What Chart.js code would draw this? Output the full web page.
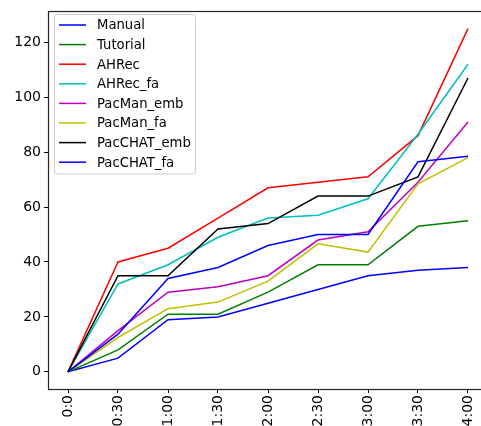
<!DOCTYPE html>
<html>
<head>
<meta charset="utf-8">
<script src="https://cdn.jsdelivr.net/npm/chart.js@4/dist/chart.umd.min.js"></script>
<style>
html,body{margin:0;padding:0;background:#fff;overflow:hidden;}
#wrap{width:481px;height:426px;overflow:hidden;position:relative;}
#box{width:500px;height:426px;position:absolute;left:0;top:0;}
</style>
</head>
<body>
<div id="wrap"><div id="box"><canvas id="c"></canvas></div></div>
<script>
const categories = ['0:0','0:30','1:00','1:30','2:00','2:30','3:00','3:30','4:00'];
const yTicks = [0,20,40,60,80,100,120];
const seriesNames = ['Manual','Tutorial','AHRec','AHRec_fa','PacMan_emb','PacMan_fa','PacCHAT_emb','PacCHAT_fa'];
const seriesColors = ['#0000ff','#008000','#ff0000','#00bfbf','#bf00bf','#bfbf00','#000000','#0000ff'];
const manual      = [0, 5, 19, 20, 25, 30, 35, 37, 38];
const tutorial    = [0, 8, 21, 21, 29, 39, 39, 53, 55];
const ahrec       = [0, 40, 45, 56, 67, 69, 71, 86, 125];
const ahrecFa     = [0, 32, 39, 49, 56, 57, 63, 86.5, 112];
const pacmanEmb   = [0, 15, 29, 31, 35, 48, 51, 69, 91];
const pacmanFa    = [0, 12.5, 23, 25.4, 33, 46.6, 43.6, 68.5, 78];
const pacchatEmb  = [0, 35, 35, 52, 54, 64, 64, 71, 107];
const pacchatFa   = [0, 13.7, 34, 38, 46, 50, 50, 76.5, 78.5];
const seriesValues = [manual, tutorial, ahrec, ahrecFa, pacmanEmb, pacmanFa, pacchatEmb, pacchatFa];

const FONT = "'DejaVu Sans', sans-serif";
const n = seriesNames.length;
const datasets = seriesNames.map((name, i) => ({
  label: name,
  data: seriesValues[i].map((v, j) => ({x: j, y: v})),
  borderColor: seriesColors[i],
  backgroundColor: seriesColors[i],
  borderWidth: 1.5,
  pointRadius: 0,
  tension: 0,
  fill: false,
  order: n - i
}));

const framePlugin = {
  id: 'frame',
  afterDatasetsDraw(chart) {
    const {ctx, chartArea: a} = chart;
    ctx.save();
    ctx.strokeStyle = '#222';
    ctx.lineWidth = 1.2;
    ctx.strokeRect(Math.round(a.left) + 0.5, Math.round(a.top) + 0.5, Math.round(a.right - a.left), Math.round(a.bottom - a.top));
    ctx.restore();
  },
  afterDraw(chart) {
    const {ctx} = chart;
    const bx = 54.5, by = 14.5, bw = 141, bh = 159.5, r = 3;
    ctx.save();
    ctx.beginPath();
    ctx.moveTo(bx + r, by);
    ctx.arcTo(bx + bw, by, bx + bw, by + bh, r);
    ctx.arcTo(bx + bw, by + bh, bx, by + bh, r);
    ctx.arcTo(bx, by + bh, bx, by, r);
    ctx.arcTo(bx, by, bx + bw, by, r);
    ctx.closePath();
    ctx.fillStyle = 'rgba(255,255,255,0.8)';
    ctx.fill();
    ctx.strokeStyle = '#cccccc';
    ctx.lineWidth = 1;
    ctx.stroke();
    ctx.font = '13.2px ' + FONT;
    ctx.textBaseline = 'middle';
    ctx.textAlign = 'left';
    chart.data.datasets.forEach((ds, i) => {
      const y = 25 + i * 19.6;
      ctx.strokeStyle = ds.borderColor;
      ctx.lineWidth = 1.5;
      ctx.beginPath();
      ctx.moveTo(59, y);
      ctx.lineTo(86, y);
      ctx.stroke();
      ctx.fillStyle = '#000';
      ctx.fillText(ds.label, 97, y + 1);
    });
    ctx.restore();
  }
};

new Chart(document.getElementById('c'), {
  type: 'line',
  data: {datasets},
  options: {
    responsive: true,
    maintainAspectRatio: false,
    animation: false,
    events: [],
    layout: {padding: {top: 7, right: 12, left: 0, bottom: 0}},
    plugins: {legend: {display: false}, tooltip: {enabled: false}},
    scales: {
      x: {
        type: 'linear',
        min: -0.4,
        max: 8.4,
        afterBuildTicks(scale) { scale.ticks = categories.map((c, i) => ({value: i})); },
        afterFit(scale) { scale.height = 37; },
        grid: {drawOnChartArea: false, drawTicks: true, tickLength: 4, tickColor: '#000', lineWidth: 1},
        border: {display: false},
        ticks: {
          autoSkip: false,
          minRotation: 90,
          maxRotation: 90,
          padding: 2,
          color: '#000',
          font: {family: FONT, size: 14},
          callback: (v) => categories[v]
        }
      },
      y: {
        type: 'linear',
        min: -6.25,
        max: 131.25,
        afterBuildTicks(scale) { scale.ticks = yTicks.map(v => ({value: v})); },
        afterFit(scale) { scale.width = 48; },
        grid: {drawOnChartArea: false, drawTicks: true, tickLength: 4, tickColor: '#000', lineWidth: 1},
        border: {display: false},
        ticks: {
          padding: 3,
          color: '#000',
          font: {family: FONT, size: 14},
          callback: (v) => String(v)
        }
      }
    }
  },
  plugins: [framePlugin]
});
</script>
</body>
</html>
